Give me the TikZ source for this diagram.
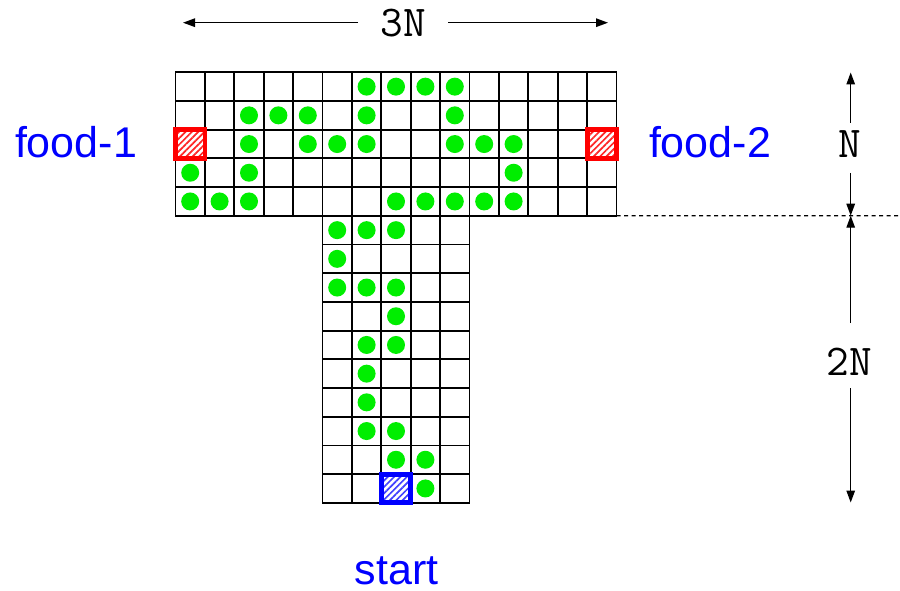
\documentclass[tikz,border=0pt]{standalone}
\usepackage{fontspec}
\setmainfont{Liberation Sans}
\usetikzlibrary{arrows.meta,patterns.meta}
\definecolor{dotgreen}{RGB}{0,238,0}
\definecolor{lblblue}{RGB}{0,0,255}
\begin{document}
\begin{tikzpicture}[x=1pt,y=-1pt,
  cellbox/.style={draw=black,line width=1.8pt,minimum width=29.4pt,minimum height=28.7pt,inner sep=0pt,outer sep=0pt},
  dot/.style={circle,fill=dotgreen,minimum size=18pt,inner sep=0pt},
  foodbox/.style={draw=red,line width=4.8pt,minimum width=29.4pt,minimum height=28.7pt,inner sep=0pt,
    pattern={Lines[angle=45,distance=4.5pt,line width=1.7pt]},pattern color=red!85},
  startbox/.style={draw=blue,line width=4.8pt,minimum width=29.4pt,minimum height=28.7pt,inner sep=0pt,
    pattern={Lines[angle=45,distance=4.5pt,line width=1.7pt]},pattern color=blue!75},
  lbl/.style={text=lblblue,font=\fontsize{43}{50}\selectfont,anchor=base,inner sep=0pt},
  dim/.style={font=\ttfamily\fontsize{44}{50}\selectfont,anchor=base,inner sep=0pt},
  arr/.style={line width=1.4pt,-{Triangle[length=12pt,width=8.5pt]}},
  guide/.style={line width=1.3pt,dash pattern=on 4pt off 3.5pt}]
\useasboundingbox (0,0) rectangle (900,591);
\fill[white] (0,0) rectangle (900,591);
% top bar: rows 0-4, cols 0-14
\foreach \r in {0,...,4}{
  \foreach \c in {0,...,14}{
    \node[cellbox] (c-\r-\c) at ({175.5+29.4*(\c+0.5)},{72.3+28.7*(\r+0.5)}) {};
  }
}
% stem: rows 5-14, cols 5-9
\foreach \r in {5,...,14}{
  \foreach \c in {5,...,9}{
    \node[cellbox] (c-\r-\c) at ({175.5+29.4*(\c+0.5)},{72.3+28.7*(\r+0.5)}) {};
  }
}
% path dots
\foreach \r/\c in {0/6,0/7,0/8,0/9,
  1/2,1/3,1/4,1/6,1/9,
  2/2,2/4,2/5,2/6,2/9,2/10,2/11,
  3/0,3/2,3/11,
  4/0,4/1,4/2,4/7,4/8,4/9,4/10,4/11,
  5/5,5/6,5/7,
  6/5,
  7/5,7/6,7/7,
  8/7,
  9/6,9/7,
  10/6,
  11/6,
  12/6,12/7,
  13/7,13/8,
  14/8}{
  \node[dot] (d-\r-\c) at (c-\r-\c) {};
}
% food and start cells
\node[foodbox] (food1box) at (c-2-0) {};
\node[foodbox] (food2box) at (c-2-14) {};
\node[startbox] (startbox) at (c-14-7) {};
% labels
\node[lbl] (food1) at (76,158) {food-1};
\node[lbl] (food2) at (710,158) {food-2};
\node[lbl] (start) at (396.5,584) {start};
% width dimension
\node[dim] (t3N) at (403,37) {3N};
\coordinate (w3a) at (358,22.7);
\coordinate (w3b) at (448,22.7);
\coordinate (w3L) at (183,22.7);
\coordinate (w3R) at (608,22.7);
\draw[arr] (w3a) -- (w3L);
\draw[arr] (w3b) -- (w3R);
% height dimensions
\node[dim] (tN) at (850,158) {N};
\node[dim] (t2N) at (849,375) {2N};
\coordinate (nTop) at (850.7,72.5);
\coordinate (nA) at (850.7,123);
\coordinate (nB) at (850.7,173);
\coordinate (mid) at (850.7,215.7);
\coordinate (mA) at (850.7,323);
\coordinate (mB) at (850.7,388);
\coordinate (mBot) at (850.7,502.5);
\draw[arr] (nA) -- (nTop);
\draw[arr] (nB) -- (mid);
\draw[arr] (mA) -- (mid);
\draw[arr] (mB) -- (mBot);
% guide line
\coordinate (gEnd) at (900,215.7);
\draw[guide] (c-4-14.south east) -- (gEnd);
\end{tikzpicture}
\end{document}
